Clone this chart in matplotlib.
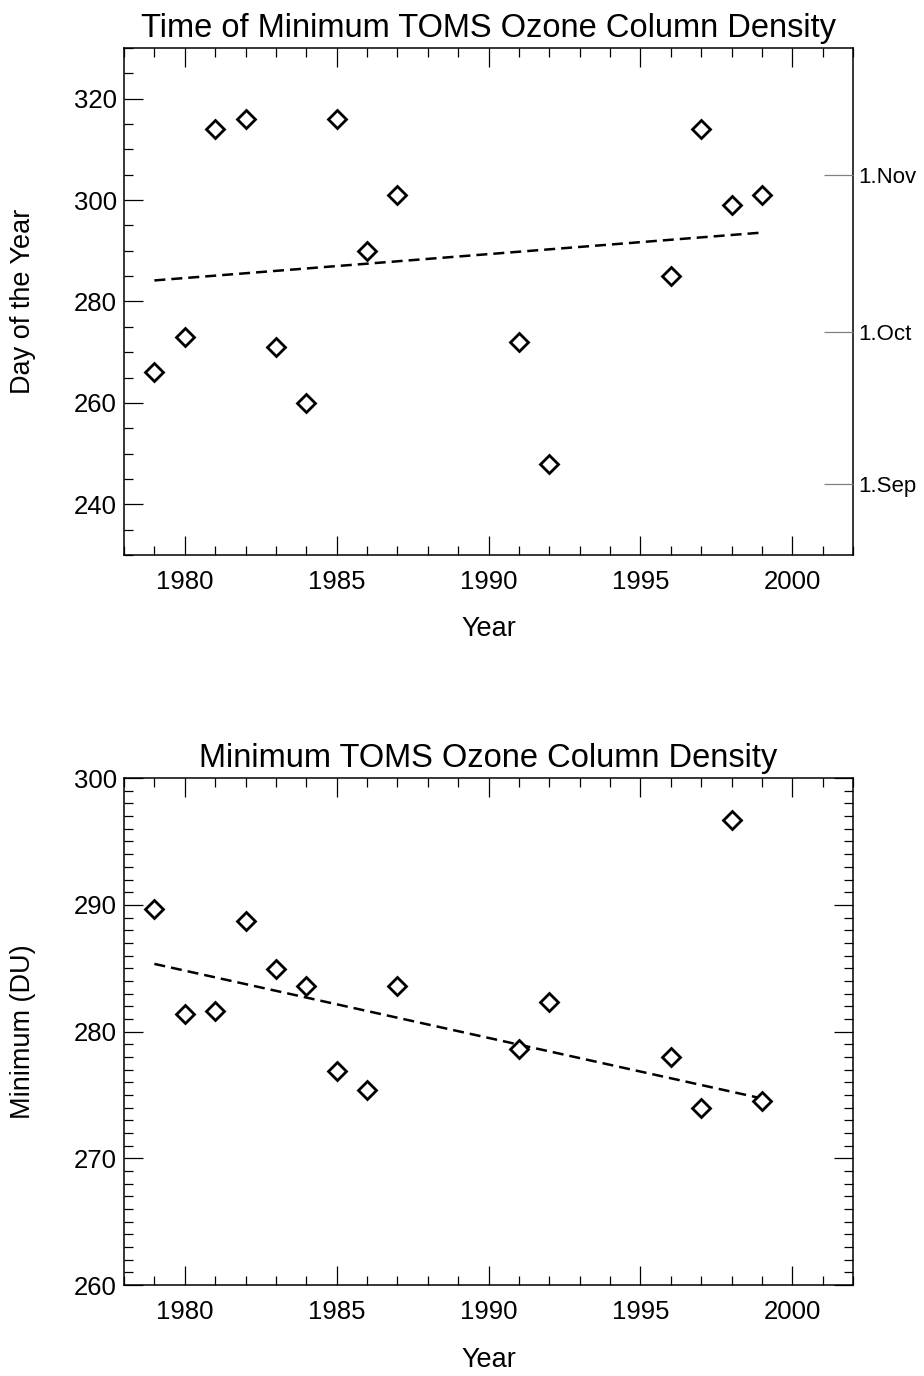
import matplotlib
matplotlib.use('Agg')
import matplotlib.pyplot as plt
import numpy as np
from matplotlib.ticker import MultipleLocator

plt.rcParams['font.family'] = ['Liberation Sans', 'DejaVu Sans']

# TOMS ozone hole minimum, per year
years = [1979, 1980, 1981, 1982, 1983, 1984, 1985, 1986, 1987,
         1991, 1992, 1996, 1997, 1998, 1999]
day_of_min = [266, 273, 314, 316, 271, 260, 316, 290, 301,
              272, 248, 285, 314, 299, 301]
min_du = [289.7, 281.4, 281.6, 288.7, 284.9, 283.6, 276.9, 275.4, 283.6,
          278.6, 282.3, 278.0, 274.0, 296.7, 274.5]

# month starts marked on the right-hand axis of the top panel
month_days = [305, 274, 244]
month_labels = ['1.Nov', '1.Oct', '1.Sep']

TICK_FS = 18.5
LABEL_FS = 19.5
TITLE_FS = 23.5


def style_axis(ax, ymajor, yminor):
    ax.set_xlim(1978, 2002)
    ax.xaxis.set_major_locator(MultipleLocator(5))
    ax.xaxis.set_minor_locator(MultipleLocator(1))
    ax.yaxis.set_major_locator(MultipleLocator(ymajor))
    ax.yaxis.set_minor_locator(MultipleLocator(yminor))
    ax.tick_params(which='both', direction='in', top=True, right=True,
                   width=0.9, color='black', labelsize=TICK_FS)
    ax.tick_params(which='major', length=13.5)
    ax.tick_params(which='minor', length=6.5)
    ax.tick_params(axis='x', pad=11)
    ax.tick_params(axis='y', pad=5)
    for sp in ax.spines.values():
        sp.set_linewidth(1.1)


def scatter_with_trend(ax, x, y, mask):
    x = np.asarray(x, dtype=float)
    y = np.asarray(y, dtype=float)
    slope, icpt = np.polyfit(x[mask], y[mask], 1)
    xs = np.array([x.min(), x.max()])
    ax.plot(xs, slope * xs + icpt, color='black', lw=1.8, dashes=(4.4, 2.4))
    ax.plot(x, y, ls='none', marker='D', ms=9.6, mew=2.0,
            mfc='white', mec='black', zorder=3)


fig = plt.figure(figsize=(9.24, 13.76), dpi=100)
ax1 = fig.add_axes([0.1342, 0.5967, 0.7890, 0.3684])
ax2 = fig.add_axes([0.1342, 0.0661, 0.7890, 0.3684])

# top: day of the year of the minimum
scatter_with_trend(ax1, years, day_of_min, np.ones(len(years), bool))
style_axis(ax1, 20, 5)
ax1.set_ylim(230, 330)
ax1.set_title('Time of Minimum TOMS Ozone Column Density', fontsize=TITLE_FS, pad=8)
ax1.set_xlabel('Year', fontsize=LABEL_FS, labelpad=16)
ax1.set_ylabel('Day of the Year', fontsize=LABEL_FS, labelpad=27)

axm = ax1.twinx()
axm.set_ylim(ax1.get_ylim())
axm.set_yticks(month_days)
axm.set_yticklabels(month_labels, fontsize=16)
axm.tick_params(axis='y', direction='in', length=21, width=0.9,
                color='#808080', pad=4)
for sp in axm.spines.values():
    sp.set_visible(False)

# bottom: minimum column density, trend fitted without the 1998 outlier
scatter_with_trend(ax2, years, min_du, np.array(years) != 1998)
style_axis(ax2, 10, 1)
ax2.set_ylim(260, 300)
ax2.set_title('Minimum TOMS Ozone Column Density', fontsize=TITLE_FS, pad=8)
ax2.set_xlabel('Year', fontsize=LABEL_FS, labelpad=16)
ax2.set_ylabel('Minimum (DU)', fontsize=LABEL_FS, labelpad=27)

fig.savefig('out.png', dpi=100)
